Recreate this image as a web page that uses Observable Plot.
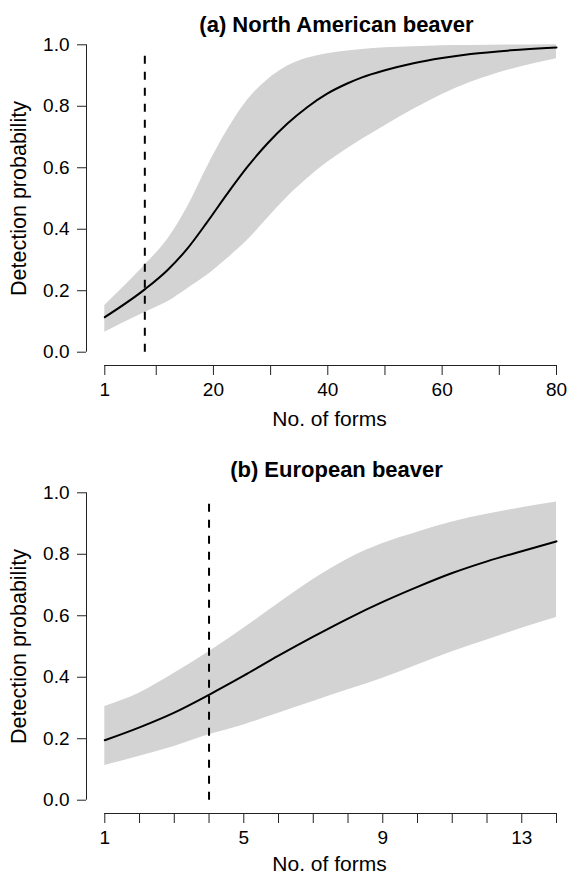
<!DOCTYPE html>
<html>
<head>
<meta charset="utf-8">
<script src="https://cdn.jsdelivr.net/npm/d3@7"></script>
<script src="https://cdn.jsdelivr.net/npm/@observablehq/plot@0.6"></script>
<style>
  html, body { margin: 0; padding: 0; background: #fff; }
  #chart svg { display: block; }
</style>
</head>
<body>
<div id="chart"></div>
<script>
// Panel (a) North American beaver
const formsA = [1, 8.1, 11.9, 15.4, 18.9, 22.4, 25.9, 29.4, 32.9, 36.4, 39.9, 43.4, 46, 50, 55, 60, 65, 72, 80];
const meanA  = [0.114, 0.206, 0.266, 0.336, 0.423, 0.515, 0.602, 0.678, 0.743, 0.797, 0.841, 0.874, 0.894, 0.917, 0.940, 0.957, 0.970, 0.982, 0.991];
const lowerA = [0.065, 0.130, 0.163, 0.206, 0.250, 0.304, 0.363, 0.434, 0.504, 0.564, 0.617, 0.662, 0.693, 0.737, 0.790, 0.838, 0.878, 0.920, 0.955];
const upperA = [0.152, 0.285, 0.365, 0.470, 0.602, 0.721, 0.819, 0.885, 0.930, 0.956, 0.971, 0.980, 0.985, 0.990, 0.994, 0.997, 0.998, 0.999, 1.0];
const ticksA = [1, 10, 20, 30, 40, 50, 60, 70, 80];
const labelsA = [1, 20, 40, 60, 80];
const cutoffA = 8;

// Panel (b) European beaver
const formsB = [1, 2, 3, 4, 5, 6, 7, 8, 9, 10, 11, 12, 13, 14];
const meanB  = [0.195, 0.237, 0.285, 0.343, 0.405, 0.470, 0.532, 0.591, 0.645, 0.694, 0.739, 0.777, 0.810, 0.842];
const lowerB = [0.113, 0.143, 0.175, 0.213, 0.245, 0.283, 0.321, 0.359, 0.397, 0.44, 0.483, 0.521, 0.559, 0.594];
const upperB = [0.305, 0.349, 0.413, 0.483, 0.559, 0.640, 0.718, 0.785, 0.835, 0.872, 0.905, 0.930, 0.951, 0.970];
const ticksB = [1, 2, 3, 4, 5, 6, 7, 8, 9, 10, 11, 12, 13, 14];
const labelsB = [1, 5, 9, 13];
const cutoffB = 4;

const yTicks = [0, 0.2, 0.4, 0.6, 0.8, 1.0];
const xTitle = "No. of forms";
const yTitle = "Detection probability";

function panel({title, xs, mean, lo, hi, ticks, labels, cutoff, height, titleDy, xTitleDy}) {
  const rows = xs.map((x, i) => ({x, mean: mean[i], lo: lo[i], hi: hi[i]}));
  const x0 = xs[0], x1 = xs[xs.length - 1];
  return Plot.plot({
    width: 567,
    height,
    marginLeft: 86,
    marginRight: 11,
    marginTop: 44,
    marginBottom: height - 365,
    style: {fontFamily: "'Liberation Sans', Arial, Helvetica, sans-serif", fontSize: "19px", color: "#000", background: "#fff", overflow: "visible"},
    x: {domain: [x0, x1], range: [104.3, 556], axis: null},
    y: {domain: [0, 1], range: [351.7, 44.3], axis: null},
    marks: [
      Plot.areaY(rows, {x: "x", y1: "lo", y2: "hi", fill: "#d3d3d3", curve: "monotone-x"}),
      Plot.lineY(rows, {x: "x", y: "mean", stroke: "#000", strokeWidth: 2, curve: "monotone-x"}),
      Plot.ruleX([cutoff], {y1: 0, y2: 0.975, stroke: "#000", strokeWidth: 2, strokeDasharray: "8,8"}),
      Plot.ruleX([x0], {y1: 0, y2: 1, dx: -18.3, stroke: "#222", strokeWidth: 1}),
      Plot.axisY({ticks: yTicks, label: null, tickSize: 9, tickPadding: 8, tickFormat: d => d.toFixed(1), fontSize: 19, stroke: "#222"}),
      Plot.ruleY([0], {x1: x0, x2: x1, dy: 13.3, stroke: "#222", strokeWidth: 1}),
      Plot.axisX({ticks, label: null, tickSize: 10, tickPadding: 7, tickFormat: d => labels.includes(d) ? String(d) : "", fontSize: 19, stroke: "#222"}),
      Plot.text([title], {frameAnchor: "top", textAnchor: "middle", lineAnchor: "middle", dx: 15, dy: titleDy, fontWeight: "bold", fontSize: 22}),
      Plot.text([xTitle], {frameAnchor: "bottom", textAnchor: "middle", lineAnchor: "middle", dx: 8, dy: xTitleDy, fontSize: 21}),
      Plot.text([yTitle], {frameAnchor: "left", textAnchor: "middle", lineAnchor: "middle", dx: -67, dy: -6.5, rotate: -90, fontSize: 21.5})
    ]
  });
}

const chart = document.getElementById("chart");
chart.append(panel({title: "(a) North American beaver", xs: formsA, mean: meanA, lo: lowerA, hi: upperA, ticks: ticksA, labels: labelsA, cutoff: cutoffA, height: 448, titleDy: -20, xTitleDy: 53.3}));
chart.append(panel({title: "(b) European beaver", xs: formsB, mean: meanB, lo: lowerB, hi: upperB, ticks: ticksB, labels: labelsB, cutoff: cutoffB, height: 427, titleDy: -22.3, xTitleDy: 50.5}));
</script>
</body>
</html>
